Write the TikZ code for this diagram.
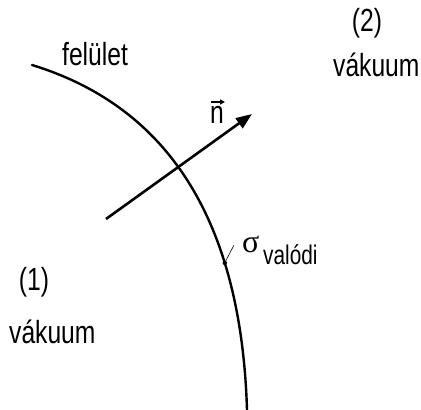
\documentclass[tikz,border=0pt]{standalone}
\usepackage{fontspec}
\setmainfont{Liberation Sans}[FakeStretch=0.77]
\newfontfamily\greekfont{Liberation Serif}
\usetikzlibrary{arrows.meta}
\begin{document}
\begin{tikzpicture}[x=1pt,y=-1pt,
  lbl/.style={inner sep=0pt,anchor=base west,font=\fontsize{32}{34}\selectfont},
  sublbl/.style={inner sep=0pt,anchor=base west,font=\fontsize{27}{29}\selectfont},
  surf/.style={line width=2.4pt,line cap=round},
  normal/.style={line width=2.6pt,-{Triangle[length=16pt,width=12pt]}}]
\useasboundingbox (0,0) rectangle (421,410);
% surface curve
\coordinate (c0) at (32,65);
\coordinate (c3) at (247,410);
\draw[surf] (c0) .. controls (182,111) and (241.9,240) .. (c3)
  coordinate[pos=0.685] (cd);
% normal vector
\coordinate (nA) at (106,219);
\coordinate (nB) at (252,114);
\draw[normal] (nA) -- (nB);
% labels
\node[lbl] (fel) at (62,65) {felület};
\node[lbl,anchor=base] (two) at (367,31) {(2)};
\node[lbl] (vak2) at (333,76) {vákuum};
\node[lbl,anchor=base] (one) at (34,290) {(1)};
\node[lbl] (vak1) at (9,343) {vákuum};
\node[lbl] (nlab) at (210,123) {n};
\coordinate (vA) at (211,102);
\coordinate (vB) at (225,102);
\draw[line width=1.2pt,-{Triangle[length=5pt,width=5pt]}] (vA) -- (vB);
% sigma
\fill (cd) circle (2.2pt);
\coordinate (sl) at (234,245);
\draw[line width=0.6pt] (cd) -- (sl);
\node[inner sep=0pt,anchor=base west,font=\greekfont\fontsize{32}{34}\selectfont] (sig) at (242,252) {σ};
\node[sublbl] (val) at (263,264) {valódi};
\end{tikzpicture}
\end{document}
